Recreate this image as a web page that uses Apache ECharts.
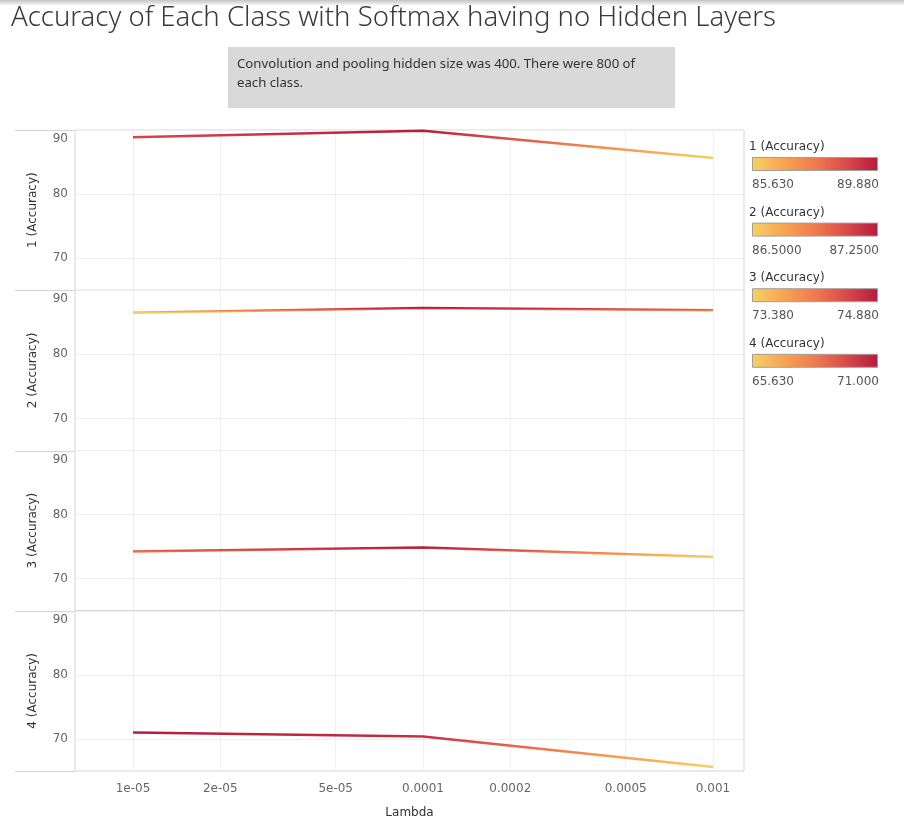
<!DOCTYPE html>
<html><head><meta charset="utf-8">
<script src="https://cdn.jsdelivr.net/npm/echarts@6/dist/echarts.min.js"></script>
<style>html,body{margin:0;padding:0;background:#fff}#c{width:904px;height:833px}</style>
</head><body><div id="c"></div>
<script>
// ---- data ----
const lambdas = [1e-5, 1e-4, 1e-3];
const classNames = ['1 (Accuracy)', '2 (Accuracy)', '3 (Accuracy)', '4 (Accuracy)'];
const acc1 = [88.88, 89.88, 85.63];
const acc2 = [86.50, 87.25, 86.88];
const acc3 = [74.25, 74.88, 73.38];
const acc4 = [71.00, 70.38, 65.63];
const tickLambdas = [1e-5, 2e-5, 5e-5, 1e-4, 2e-4, 5e-4, 1e-3];
const tickLabels = ['1e-05', '2e-05', '5e-05', '0.0001', '0.0002', '0.0005', '0.001'];
const yTicks = [70, 80, 90];
const legendDecimals = [3, 4, 3, 3];
const titleText = 'Accuracy of Each Class with Softmax having no Hidden Layers';
const captionLines = ['Convolution and pooling hidden size was 400. There were 800 of', 'each class.'];

// ---- layout / style ----
const series4 = [acc1, acc2, acc3, acc4];
const palette = ['#f5d166', '#f8a452', '#ef7b4f', '#d84a4a', '#b51b3e'];
const FONT = 'DejaVu Sans';
const L = 75, R = 744, TOP = 130, H = 160.25;
const tickLog = tickLambdas.map(Math.log10);
const xMin = -5.2, xMax = -2.893;

const grids = [], xAxes = [], yAxes = [], series = [], visualMaps = [], graphics = [];

series4.forEach((arr, i) => {
  grids.push({ left: L, right: 904 - R, top: TOP + i * H, height: H, show: true, borderColor: '#d4d4d4', borderWidth: 1, backgroundColor: 'transparent' });
  xAxes.push({
    type: 'value', gridIndex: i, min: xMin, max: xMax,
    axisLine: { show: false },
    axisTick: { show: false, customValues: tickLog },
    axisLabel: {
      show: i === 3, customValues: tickLog, margin: 12, color: '#666', fontSize: 12, fontFamily: FONT,
      formatter: v => { const k = tickLog.findIndex(t => Math.abs(t - v) < 1e-6); return k >= 0 ? tickLabels[k] : ''; }
    },
    splitLine: { show: true, lineStyle: { color: '#efefef', width: 1 } },
    name: i === 3 ? 'Lambda' : '', nameLocation: 'middle', nameGap: 36,
    nameTextStyle: { color: '#333', fontSize: 12, fontFamily: FONT }
  });
  yAxes.push({
    type: 'value', gridIndex: i, min: 65, max: 90,
    name: classNames[i], nameLocation: 'middle', nameRotate: 90, nameGap: 36,
    nameTextStyle: { color: '#333', fontSize: 12, fontFamily: FONT },
    axisLine: { show: false },
    axisTick: { show: false, customValues: yTicks },
    axisLabel: {
      customValues: yTicks, color: '#666', fontSize: 12, fontFamily: FONT, margin: 7,
      formatter: v => v === 90 ? '{t|90}' : String(v),
      rich: { t: { color: '#666', fontSize: 12, fontFamily: FONT, padding: [18, 0, 0, 0] } }
    },
    splitLine: { show: true, lineStyle: { color: '#efefef', width: 1 } }
  });
  series.push({
    type: 'line', xAxisIndex: i, yAxisIndex: i, symbol: 'none', smooth: false,
    lineStyle: { width: 2.5 },
    data: lambdas.map((l, j) => [Math.log10(l), arr[j]])
  });
  const mn = Math.min(...arr), mx = Math.max(...arr);
  visualMaps.push({ type: 'continuous', show: false, seriesIndex: i, dimension: 1, min: mn, max: mx, inRange: { color: palette } });

  // legend
  const ly = 139 + i * 65.6;
  graphics.push({ type: 'text', left: 749, top: ly + 2, style: { text: classNames[i], fill: '#333', font: '12px ' + FONT } });
  graphics.push({ type: 'rect', shape: { x: 752.5, y: ly + 18.5, width: 125, height: 13 },
    style: { fill: new echarts.graphic.LinearGradient(0, 0, 1, 0, palette.map((c, k) => ({ offset: k / (palette.length - 1), color: c }))), stroke: '#a0a0a0', lineWidth: 1 } });
  graphics.push({ type: 'text', x: 752, y: ly + 46, style: { text: mn.toFixed(legendDecimals[i]), fill: '#555', font: '12px ' + FONT, textVerticalAlign: 'middle', textAlign: 'left' } });
  graphics.push({ type: 'text', x: 879, y: ly + 46, style: { text: mx.toFixed(legendDecimals[i]), fill: '#555', font: '12px ' + FONT, textVerticalAlign: 'middle', textAlign: 'right' } });
});

// row separator lines extending into y-name area
for (let k = 0; k <= 4; k++) {
  const y = Math.round(TOP + k * H) + 0.5;
  graphics.push({ type: 'line', shape: { x1: 15, y1: y, x2: L, y2: y }, style: { stroke: '#d4d4d4', lineWidth: 1 } });
}
// top shadow
graphics.push({ type: 'rect', shape: { x: 0, y: 0, width: 904, height: 6 },
  style: { fill: new echarts.graphic.LinearGradient(0, 0, 0, 1, [{ offset: 0, color: '#c4c4c4' }, { offset: 1, color: '#ffffff' }]) } });
// caption box
graphics.push({ type: 'rect', shape: { x: 228, y: 47, width: 447, height: 61 }, style: { fill: '#d9d9d9' } });
captionLines.forEach((t, k) => {
  graphics.push({ type: 'text', x: 237, y: 64 + k * 19, style: { text: t, fill: '#333', font: '13.2px "Noto Sans"', textVerticalAlign: 'middle' } });
});
// title
graphics.push({ type: 'text', x: 11, y: 18, style: { text: titleText, fill: '#3a3a3a', font: '300 27.5px "Noto Sans"', textVerticalAlign: 'middle' } });

const chart = echarts.init(document.getElementById('c'), null, { renderer: 'canvas' });
chart.setOption({
  animation: false,
  backgroundColor: '#fff',
  grid: grids, xAxis: xAxes, yAxis: yAxes, series: series, visualMap: visualMaps,
  graphic: graphics
});
</script></body></html>
